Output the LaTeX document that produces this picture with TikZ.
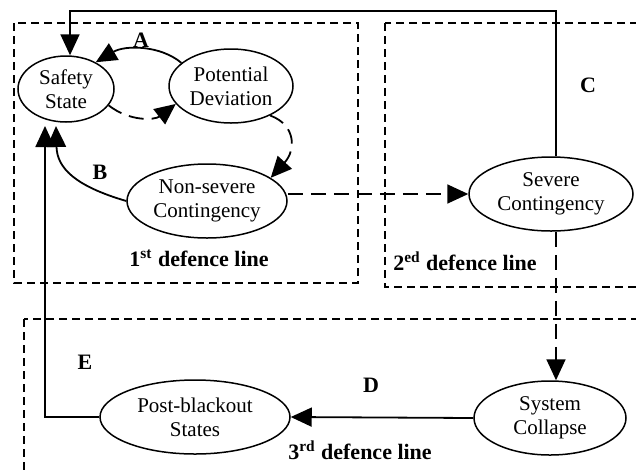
\documentclass[tikz,border=0pt]{standalone}
\usepackage{fontspec}
\setmainfont{Liberation Serif}
\usetikzlibrary{arrows.meta,shapes.geometric}
\begin{document}
\begin{tikzpicture}[x=0.5pt,y=-0.5pt,
  st/.style={ellipse, draw, line width=0.75pt, inner sep=0pt, align=center,
    font=\fontsize{10.5}{12}\selectfont},
  lab/.style={font=\fontsize{11}{13}\selectfont\bfseries, inner sep=0pt},
  conn/.style={line width=0.9pt, -{Triangle[length=10.5pt,width=9.5pt]}},
  dconn/.style={conn, dash pattern=on 7.5pt off 4pt},
  dbox/.style={line width=0.75pt, dash pattern=on 4pt off 2.5pt}]
\useasboundingbox (0,0) rectangle (636,472);
\clip (0,0) rectangle (636,472);
% defence-line boxes
\draw[dbox] (14,23) rectangle (358,283);
\draw[dbox] (385,23) rectangle (670,287);
\draw[dbox] (24,319) rectangle (670,520);
% states
\node[st, minimum width=48pt, minimum height=33pt] (saf) at (66,89) {Safety\\State};
\node[st, minimum width=62pt, minimum height=37pt] (pot) at (231,86) {Potential\\Deviation};
\node[st, minimum width=80pt, minimum height=37pt] (nons) at (207,201) {Non-severe\\Contingency};
\node[st, minimum width=82pt, minimum height=37pt] (sev) at (551,194) {Severe\\Contingency};
\node[st, minimum width=76pt, minimum height=37pt] (col) at (550,418) {System\\Collapse};
\node[st, minimum width=95pt, minimum height=37pt] (post) at (195,417) {Post-blackout\\States};
% free ends
\coordinate (tr) at (556,11);
\coordinate (tl) at (70,11);
\coordinate (eTip) at (45,126);
\coordinate (bTip) at (56,126);
% connectors
\draw[conn] (pot.155) .. controls (160,45) and (125,45) .. (saf.42);
\draw[dconn] (saf.-21) .. controls (130,122) and (155,120) .. (pot.198);
\draw[dconn] (pot.-37) .. controls (296,125) and (296,150) .. (nons.20);
\draw[conn] (nons.west) .. controls (75,186) and (57,168) .. (bTip);
\draw[dconn] (sev.west -| nons.east) -- (sev.west);
\draw[conn] (sev.north -| tr) -- (tr) -- (tl) -- (saf.north -| tl);
\draw[dconn] (sev.south -| tr) -- (col.north -| tr);
\draw[conn] (col.west) -- (post.east);
\draw[conn] (post.west) -| (eTip);
% labels
\node[lab] (la) at (141,40) {A};
\node[lab] (lb) at (100,172) {B};
\node[lab] (lc) at (588,85) {C};
\node[lab] (ld) at (371,385) {D};
\node[lab] (le) at (85,362) {E};
\node[lab] (l1) at (199,258) {1\textsuperscript{st} defence line};
\node[lab] (l2) at (465,261) {2\textsuperscript{ed} defence line};
\node[lab] (l3) at (360,450) {3\textsuperscript{rd} defence line};
\end{tikzpicture}
\end{document}
